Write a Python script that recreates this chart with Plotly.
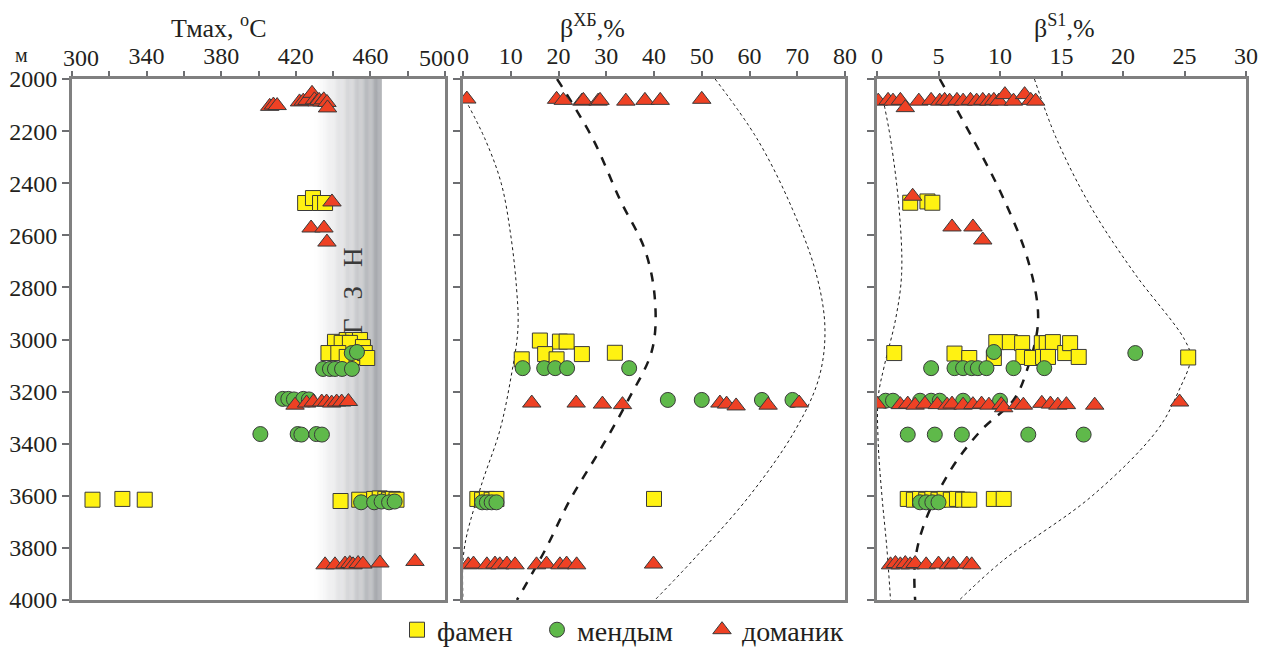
import plotly.graph_objects as go

# ---------------- data ----------------
# Panel 1: Tmax, °C
tmax_dom_val = [406, 408, 410, 422, 424, 426, 428.7, 430, 431.4, 432.5, 434, 435, 436.7, 437, 439.4, 428.2, 435.1, 436.7,
                419.6, 425.8, 429.4, 433.9, 436.5, 439.2, 441.9, 444.6, 448.2,
                435.7, 441, 446.4, 449, 450.7, 453.4, 456, 465.1, 483.9]
tmax_dom_dep = [2105, 2100, 2102, 2088, 2085, 2082, 2055, 2080, 2088, 2082, 2088, 2080, 2090, 2111, 2472, 2572, 2572, 2626,
                3252, 3244, 3240, 3240, 3240, 3244, 3240, 3240, 3238,
                3865, 3865, 3862, 3860, 3865, 3860, 3862, 3858, 3852]
tmax_fam_val = [425, 429.2, 433, 435.7,
                441, 447.3, 450.8, 454.4, 444.6, 449, 456, 437.5, 442.8, 447.3, 452.6, 457, 458.3,
                311, 327, 339, 444, 454, 462, 465, 468, 470, 472, 474]
tmax_fam_dep = [2476, 2457, 2476, 2476,
                3009, 3002, 3002, 3002, 3013, 3013, 3029, 3052, 3052, 3067, 3067, 3052, 3071,
                3615, 3612, 3615, 3620, 3615, 3612, 3610, 3612, 3615, 3612, 3615]
tmax_men_val = [450, 452.8, 434.6, 438.3, 441, 444.8, 450.1,
                413, 416, 419, 424, 427,
                401, 421, 423, 431, 434,
                455, 462, 466, 470, 473]
tmax_men_dep = [3052, 3048, 3113, 3113, 3113, 3113, 3113,
                3228, 3228, 3230, 3228, 3230,
                3363, 3363, 3365, 3363, 3365,
                3625, 3625, 3622, 3625, 3622]

# Panel 2: beta XB, %
xb_dom_val = [0.8, 19.6, 21, 24.9, 25.2, 28.3, 28.7, 34.1, 38.1, 41.3, 50,
              14.4, 23.7, 29.2, 33.4, 53.8, 55.2, 57.2, 63.9, 70.4,
              1.1, 2.2, 5, 6.7, 7.7, 9.2, 10.9, 15.4, 17.5, 20.3, 21.7, 23.8, 39.9]
xb_dom_dep = [2077, 2078, 2082, 2085, 2082, 2085, 2082, 2085, 2082, 2082, 2078,
              3244, 3244, 3248, 3250, 3244, 3248, 3255, 3252, 3244,
              3865, 3862, 3865, 3862, 3865, 3862, 3865, 3865, 3862, 3865, 3862, 3865, 3862]
xb_fam_val = [16.1, 20.3, 21.7, 12.3, 17.2, 19.6, 24.9, 31.8,
              3, 4, 5, 6, 7, 40]
xb_fam_dep = [3004, 3008, 3008, 3076, 3056, 3076, 3056, 3051,
              3612, 3615, 3612, 3615, 3612, 3612]
xb_men_val = [12.5, 17, 19.3, 21.8, 34.8,
              42.9, 50, 62.6, 69,
              4, 5, 6, 7]
xb_men_dep = [3110, 3110, 3110, 3110, 3110,
              3232, 3232, 3232, 3232,
              3625, 3625, 3625, 3625]

# Panel 3: beta S1, %
s1_dom_val = [0.1, 0.9, 1.3, 1.9, 2.3, 3.4, 4.4, 5.1, 5.5, 5.9, 6.5, 7, 7.6, 8.1, 8.6, 9.1, 9.5, 9.9, 10.4, 11.1, 12, 12.5, 12.9,
              2.9, 6.1, 7.8, 8.6,
              0, 1.9, 2.5, 3.1, 3.9, 4.9, 5.7, 6.1, 7, 7.8, 8.5, 9.1, 10.1, 10.3, 11.4, 11.9, 13.4, 14.1, 14.7, 15.4, 17.7, 24.6,
              1.1, 1.5, 1.9, 2.3, 2.7, 3.1, 4, 5, 5.8, 6.2, 7.3, 7.7]
s1_dom_dep = [2085, 2082, 2085, 2082, 2110, 2085, 2082, 2085, 2082, 2085, 2082, 2085, 2082, 2085, 2082, 2085, 2082, 2085, 2060, 2085, 2060, 2082, 2085,
              2450, 2568, 2568, 2618,
              3248, 3250, 3248, 3252, 3248, 3250, 3252, 3248, 3252, 3250, 3248, 3252, 3250, 3262, 3250, 3252, 3245, 3248, 3252, 3250, 3252, 3240,
              3865, 3860, 3865, 3860, 3865, 3860, 3865, 3862, 3865, 3862, 3862, 3865]
s1_fam_val = [2.7, 4.1, 4.5,
              1.4, 6.3, 7.5, 9.5, 9.7, 10.8, 11.8, 11.9, 12.6, 13.4, 13.8, 14.3, 13.5, 13.9, 15.3, 15.7, 16.4, 25.3,
              2.5, 3, 3.5, 4, 4.5, 5, 5.5, 6, 6.5, 7, 7.5, 9.5, 10.3]
s1_fam_dep = [2475, 2470, 2475,
              3052, 3054, 3071, 3071, 3010, 3010, 3014, 3067, 3071, 3014, 3014, 3010, 3067, 3067, 3052, 3014, 3067, 3069,
              3612, 3615, 3612, 3615, 3612, 3615, 3612, 3615, 3612, 3615, 3615, 3612, 3612]
s1_men_val = [9.5, 21,
              4.4, 6.3, 7, 7.7, 8.2, 8.9, 11.1, 13.6,
              0.7, 1.3, 3.5, 4.4, 5.1, 7, 10,
              2.5, 4.7, 6.9, 12.3, 16.8,
              3.5, 4, 4.5, 5]
s1_men_dep = [3048, 3052,
              3110, 3110, 3110, 3110, 3110, 3110, 3110, 3110,
              3235, 3235, 3235, 3235, 3235, 3235, 3235,
              3365, 3365, 3365, 3365, 3365,
              3625, 3625, 3625, 3625]

# Trend curves
xb_mid_dep = [2000, 2230, 2464, 2656, 2848, 3040, 3232, 3424, 3616, 3808, 4000]
xb_mid_val = [19.7, 27.2, 32.9, 38.1, 40.2, 39.6, 34.6, 28.7, 22.4, 17.2, 11.3]
xb_lo_dep = [2080, 2230, 2400, 2600, 2800, 2960, 3150, 3350, 3550, 3750, 3850, 4000]
xb_lo_val = [0.5, 4.6, 8, 10, 11.2, 11.5, 10, 7.7, 4, 0.8, 0, 0]
xb_hi_dep = [2000, 2230, 2500, 2750, 2960, 3150, 3350, 3600, 3850, 4000]
xb_hi_val = [52.8, 61.6, 69, 74, 75.8, 74.5, 69.5, 60, 48, 40.2]

s1_mid_dep = [2000, 2230, 2450, 2700, 2925, 3117, 3232, 3347, 3500, 3700, 3850, 4000]
s1_mid_val = [5.1, 7.8, 10.2, 12.3, 13.1, 12.2, 11.1, 8.5, 6, 3.9, 3.1, 3.1]
s1_lo_dep = [2080, 2230, 2500, 2750, 2925, 3100, 3220, 3400, 3600, 3800, 4000]
s1_lo_val = [0.5, 1.1, 1.8, 2.0, 1.5, 0.6, 0.1, 0.1, 0.4, 0.8, 1.1]
s1_hi_dep = [2000, 2230, 2500, 2750, 3000, 3070, 3200, 3347, 3600, 3850, 4000]
s1_hi_val = [12.8, 14.6, 17.5, 21, 25, 25.5, 24.5, 22.8, 17.5, 10.2, 6.7]

# Axis ticks
tmax_ticks = list(range(300, 501, 20))
tmax_labels = [str(v) if (v - 300) % 40 == 0 else "" for v in tmax_ticks]
xb_ticks = list(range(0, 81, 10))
s1_ticks = list(range(0, 31, 5))
depth_ticks = list(range(2000, 4001, 200))

# GZN band (Tmax)
GZN_MIN, GZN_MAX = 430, 466

# ---------------- style / geometry ----------------
OFF = 8                       # page body margin of the browser
FW, FH = 1266 - OFF, 648 - OFF
SERIF = "Liberation Serif, Times New Roman, serif"
TXT = "#231f20"
FRAME = "#808080"
YEL, GRN, RED = "#fff212", "#5fb94a", "#ee4124"
EDGE = "#3a3a3a"

def sx(px):
    return (px - OFF) / FW

def sy(py):
    return 1 - (py - OFF) / FH

ydom = [sy(600), sy(79)]
panels = [[sx(72), sx(445)], [sx(463), sx(845)], [sx(877), sx(1246)]]

fig = go.Figure()

# gradient band
n = 60
step = (GZN_MAX - GZN_MIN) / n
for i in range(n):
    t = (i + 0.5) / n
    f = t ** 1.25
    r = int(255 - f * (255 - 160))
    g = int(255 - f * (255 - 162))
    b = int(255 - f * (255 - 167))
    fig.add_shape(type="rect", xref="x", yref="y",
                  x0=GZN_MIN + i * step, x1=GZN_MIN + (i + 1) * step + 0.05,
                  y0=2000, y1=4000, line_width=0, fillcolor=f"rgb({r},{g},{b})", layer="below")

fig.add_annotation(x=451, y=2815, xref="x", yref="y", text="Г\u2002\u2009З\u2002\u2009Н", textangle=-90,
                   xanchor="center", yanchor="middle",
                   showarrow=False, font=dict(family=SERIF, size=27, color="#3a3a3a"))

def curve(xa, ya, vals, deps, dash, width):
    fig.add_trace(go.Scatter(x=vals, y=deps, xaxis=xa, yaxis=ya, mode="lines",
                             line=dict(color="#1a1a1a", dash=dash, width=width, shape="spline"),
                             showlegend=False, hoverinfo="skip"))

curve("x2", "y2", xb_lo_val, xb_lo_dep, "dot", 1)
curve("x2", "y2", xb_hi_val, xb_hi_dep, "dot", 1)
curve("x2", "y2", xb_mid_val, xb_mid_dep, "dash", 2.5)
curve("x3", "y3", s1_lo_val, s1_lo_dep, "dot", 1)
curve("x3", "y3", s1_hi_val, s1_hi_dep, "dot", 1)
curve("x3", "y3", s1_mid_val, s1_mid_dep, "dash", 2.5)

def pts(xa, ya, vals, deps, sym, color, name, show, leg):
    fig.add_trace(go.Scatter(x=vals, y=deps, xaxis=xa, yaxis=ya, mode="markers", name=name,
                             legendgroup=name, showlegend=show, legend=leg,
                             marker=dict(symbol=sym, color=color, size=15 if sym != "triangle-up" else 16,
                                         line=dict(color=EDGE, width=1))))

series = [
    (tmax_fam_val, tmax_fam_dep, xb_fam_val, xb_fam_dep, s1_fam_val, s1_fam_dep, "square", YEL, "фамен", "legend", 417),
    (tmax_men_val, tmax_men_dep, xb_men_val, xb_men_dep, s1_men_val, s1_men_dep, "circle", GRN, "мендым", "legend2", 557),
    (tmax_dom_val, tmax_dom_dep, xb_dom_val, xb_dom_dep, s1_dom_val, s1_dom_dep, "triangle-up", RED, "доманик", "legend3", 722),
]
for tv, td, xv, xd, sv, sd, sym, col, name, leg, _ in series:
    pts("x", "y", tv, td, sym, col, name, True, leg)
    pts("x2", "y2", xv, xd, sym, col, name, False, leg)
    pts("x3", "y3", sv, sd, sym, col, name, False, leg)

tickfont = dict(family=SERIF, size=24, color=TXT)
# end labels of the Tmax scale sit slightly inside the frame in the original
tmax_text = ["" if v in (300, 500) else t for v, t in zip(tmax_ticks, tmax_labels)]
xaxes_cfg = [
    (tmax_ticks, tmax_text, [300, 500]),
    (xb_ticks, [str(v) for v in xb_ticks], [0, 80]),
    (s1_ticks, [str(v) for v in s1_ticks], [0, 30]),
]
layout = dict(
    template="none",
    width=FW, height=FH, margin=dict(l=0, r=0, t=0, b=0, pad=0, autoexpand=False),
    paper_bgcolor="white", plot_bgcolor="white",
    showlegend=True,
)
for leg, xc in [(s[9], s[10]) for s in series]:
    layout[leg] = dict(orientation="h", x=sx(xc - 20), xanchor="left", y=sy(630), yanchor="middle",
                       font=dict(family=SERIF, size=28, color=TXT), itemwidth=30,
                       bgcolor="rgba(0,0,0,0)", borderwidth=0)
for i, (dom, (tv, tt, rng)) in enumerate(zip(panels, xaxes_cfg)):
    s = "" if i == 0 else str(i + 1)
    layout["xaxis" + s] = dict(domain=dom, range=rng, side="top", anchor="y" + s, automargin=False,
                               tickvals=tv, ticktext=tt, ticks="outside", ticklen=5, tickwidth=1.5,
                               tickcolor="#6d6e71", showline=True, linecolor=FRAME, linewidth=3,
                               mirror=True, showgrid=False, zeroline=False, tickfont=tickfont,
                               ticklabelstandoff=-3)
    layout["yaxis" + s] = dict(domain=ydom, range=[4000, 2000], anchor="x" + s, automargin=False,
                               tickvals=depth_ticks, ticks="outside", ticklen=7,
                               tickwidth=1.5, tickcolor="#6d6e71", showline=True, linecolor=FRAME,
                               linewidth=3, mirror=True, showgrid=False, zeroline=False,
                               showticklabels=(i == 0), tickfont=tickfont)
fig.update_layout(**layout)

for v, xp in [(300, 81), (500, 437)]:
    fig.add_annotation(x=sx(xp), y=sy(58), xref="paper", yref="paper", text=str(v), showarrow=False,
                       xanchor="center", yanchor="middle", font=tickfont)

titles = [("Тмах, <sup>o</sup>C", 219), ("β<sup>ХБ</sup>,%", 592), ("β<sup>S1</sup>,%", 1064)]
for txt, xp in titles:
    fig.add_annotation(x=sx(xp), y=sy(27), xref="paper", yref="paper", text=txt, showarrow=False,
                       xanchor="center", yanchor="middle",
                       font=dict(family=SERIF, size=26, color=TXT))
fig.add_annotation(x=sx(22), y=sy(55), xref="paper", yref="paper", text="м", showarrow=False,
                   xanchor="center", yanchor="middle",
                   font=dict(family=SERIF, size=20, color=TXT))

fig.write_html("out.html")
